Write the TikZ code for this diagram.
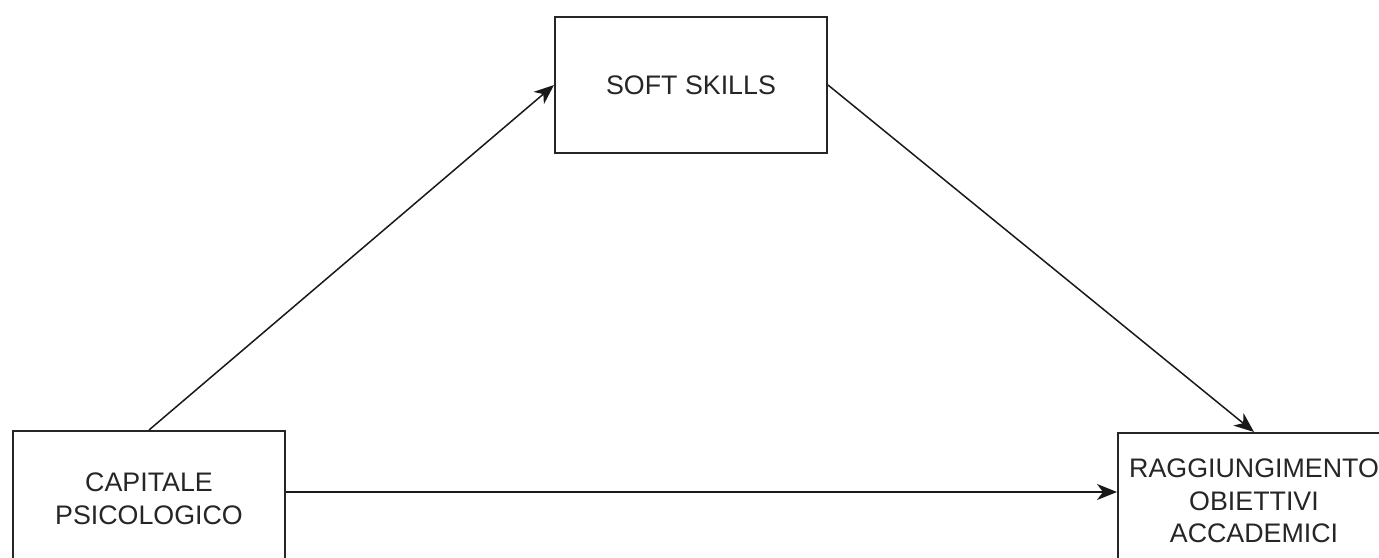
\documentclass[tikz,border=0pt]{standalone}
\usepackage{fontspec}
\setmainfont{Liberation Sans}
\usetikzlibrary{arrows.meta}
\begin{document}
\begin{tikzpicture}[x=1pt,y=-1pt,
  box/.style={draw=black!85, line width=2pt, minimum width=272pt, minimum height=136pt,
    inner sep=0pt, align=center, text=black!85, font=\fontsize{26.8}{32.5}\selectfont},
  conn/.style={draw=black!90, line width=1.5pt, -{Stealth[length=20pt,width=16pt,inset=6pt]}}]
\useasboundingbox (0,0) rectangle (1379,557);
\clip (0,0) rectangle (1379,557);
\fill[white] (0,0) rectangle (1379,557);
\node[box] (soft) at (691,85) {SOFT SKILLS};
\node[box] (cap) at (149,499) {CAPITALE\\PSICOLOGICO};
\node[box] (rag) at (1254,501) {RAGGIUNGIMENTO\\OBIETTIVI\\ACCADEMICI};
\draw[conn] (cap.north) -- (soft.west);
\draw[conn] (soft.east) -- (rag.north);
\draw[conn] ([yshift=7pt]cap.east) -- ([yshift=9pt]rag.west);
\end{tikzpicture}
\end{document}
